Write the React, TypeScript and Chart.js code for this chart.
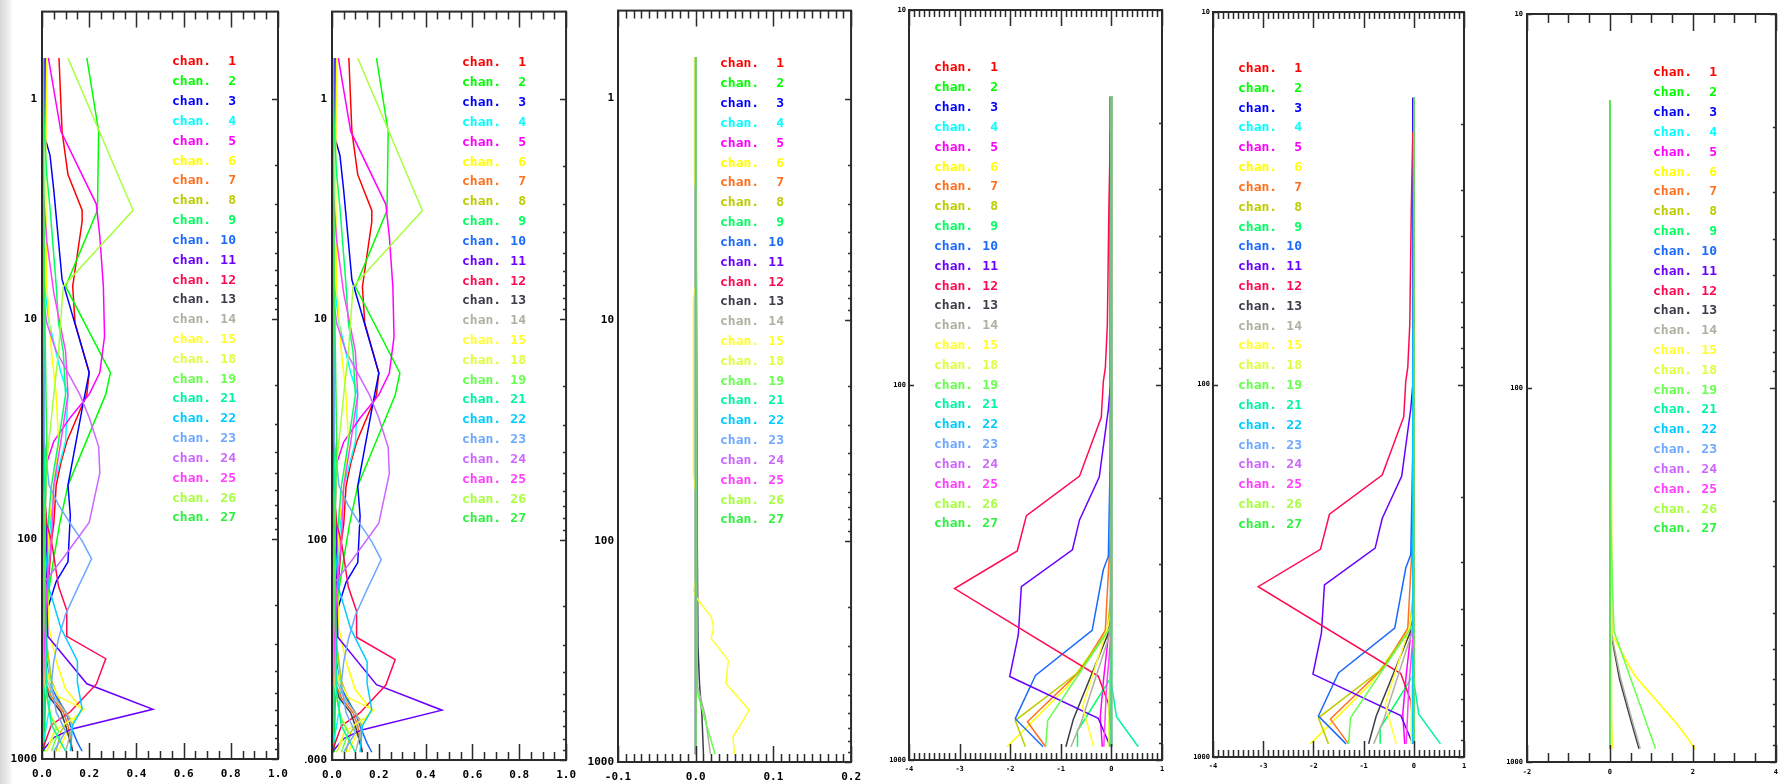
import React, { useEffect, useRef } from "react";
import { Chart, registerables } from "chart.js";
Chart.register(...registerables);

// ---------- channels & colours ----------
const CHANNELS = [1, 2, 3, 4, 5, 6, 7, 8, 9, 10, 11, 12, 13, 14, 15, 18, 19, 21, 22, 23, 24, 25, 26, 27];
const CHANNEL_COLORS = [
  "#ff0000", "#00ff00", "#0000ff", "#00ffff", "#ff00ff", "#ffff00", "#ff6f1f", "#bccc00",
  "#00ff60", "#1a6aff", "#6a00ff", "#ff0a50", "#3c3c4a", "#b0b0a0", "#ffff30", "#dcff40",
  "#66ff4c", "#00f5a0", "#00ccff", "#6fa8ff", "#cc66ff", "#ff40ff", "#a8ff40", "#30f040",
];

// ---------- tick labels ----------
const P_TICKS_FULL = [1, 10, 100, 1000];
const P_TICKS_LOW = [10, 100, 1000];
const X_TICKS_A = [0, 0.2, 0.4, 0.6, 0.8, 1.0];
const X_TICKS_C = [-0.1, 0, 0.1, 0.2];
const X_TICKS_D = [-4, -3, -2, -1, 0, 1];
const X_TICKS_F = [-2, 0, 2, 4];

// ---------- profiles: [pressure hPa, value] ----------
const PROFILE_A: Record<number, number[][]> = {
  1: [[0.65, 0.072], [1.4, 0.085], [2.2, 0.11], [3.2, 0.17], [3.6, 0.17], [7.1, 0.13], [10.4, 0.14], [17.5, 0.2], [22, 0.19], [36, 0.105], [45, 0.08], [57, 0.06], [85, 0.05], [102, 0.04], [144, 0.03], [223, 0.02], [397, 0.01], [922, 0]],
  2: [[0.65, 0.19], [1.4, 0.24], [3.2, 0.235], [7.1, 0.1], [17.5, 0.29], [22, 0.27], [57, 0.11], [85, 0.075], [122, 0.05], [168, 0.03], [254, 0.02], [922, 0.01]],
  3: [[0.65, 0.013], [1.5, 0.013], [1.8, 0.034], [2.6, 0.05], [6.6, 0.085], [17.5, 0.2], [24, 0.175], [57, 0.11], [78, 0.12], [127, 0.11], [156, 0.06], [213, 0.02], [290, 0.01], [922, 0.005]],
  4: [[0.65, 0], [1.4, 0], [3.2, 0.005], [7, 0.01], [10.4, 0.03], [17.5, 0.08], [22, 0.11], [36, 0.1], [57, 0.05], [102, 0.03], [168, 0.02], [300, 0.02], [450, 0.04], [600, 0.03], [922, 0]],
  5: [[0.65, 0.027], [1.4, 0.08], [3.0, 0.23], [4.2, 0.245], [7.1, 0.26], [12, 0.265], [17.5, 0.245], [22, 0.2], [28, 0.12], [36, 0.05], [45, 0.02], [102, 0.01], [922, 0]],
  6: [[0.65, 0.02], [2.2, 0.015], [7, 0.02], [14, 0.04], [22, 0.06], [36, 0.07], [57, 0.05], [85, 0.03], [144, 0.02], [254, 0.03], [358, 0.06], [480, 0.1], [594, 0.17], [700, 0.12], [922, 0.07]],
  7: [[0.65, 0], [7, 0.005], [45, 0.01], [144, 0.02], [254, 0.01], [437, 0.01], [521, 0.04], [611, 0.09], [703, 0.11], [922, 0.13]],
  8: [[0.65, 0], [14, 0], [57, 0.01], [144, 0.01], [300, 0.02], [437, 0.04], [566, 0.08], [656, 0.12], [749, 0.08], [922, 0.06]],
  9: [[0.65, 0], [1.4, 0.01], [2.2, 0.02], [3.2, 0.035], [4.4, 0.045], [7, 0.06], [10.4, 0.07], [14, 0.09], [22, 0.1], [36, 0.07], [57, 0.04], [102, 0.02], [922, 0.005]],
  10: [[0.65, 0], [57, 0], [168, 0.01], [358, 0.02], [437, 0.03], [521, 0.06], [611, 0.1], [703, 0.12], [840, 0.15], [922, 0.17]],
  11: [[0.65, 0], [22, 0.005], [57, 0.01], [102, 0.02], [194, 0.02], [277, 0.025], [455, 0.19], [594, 0.47], [730, 0.127], [800, 0.05], [922, 0]],
  12: [[0.65, 0], [45, 0], [85, 0.02], [102, 0.04], [164, 0.07], [211, 0.105], [277, 0.105], [350, 0.27], [457, 0.23], [610, 0.12], [700, 0.04], [800, 0.02], [922, 0]],
  13: [[0.65, 0], [254, 0], [437, 0.01], [521, 0.03], [611, 0.08], [703, 0.1], [922, 0.13]],
  14: [[0.65, 0], [300, 0], [437, 0.02], [521, 0.05], [611, 0.1], [703, 0.13], [922, 0.1]],
  15: [[0.65, 0], [300, 0], [437, 0.03], [521, 0.07], [594, 0.18], [656, 0.13], [750, 0.05], [922, 0.02]],
  18: [[0.65, 0], [200, 0], [437, 0.01], [611, 0.03], [703, 0.06], [840, 0.04], [922, 0.02]],
  19: [[0.65, 0], [100, 0], [254, 0.01], [521, 0.02], [656, 0.04], [749, 0.07], [922, 0.04]],
  21: [[0.65, 0], [10, 0.01], [100, 0.01], [500, 0.02], [700, 0.04], [922, 0.1]],
  22: [[0.65, 0], [45, 0], [102, 0.01], [168, 0.03], [254, 0.08], [358, 0.15], [450, 0.15], [590, 0.17], [700, 0.13], [922, 0.12]],
  23: [[0.65, 0], [36, 0.01], [57, 0.03], [70, 0.07], [85, 0.12], [102, 0.17], [123, 0.21], [144, 0.18], [168, 0.15], [220, 0.1], [283, 0.07], [358, 0.05], [450, 0.04], [611, 0.06], [750, 0.1], [922, 0.05]],
  24: [[0.65, 0], [7, 0], [10.4, 0.02], [14, 0.06], [22, 0.16], [28, 0.2], [38, 0.24], [50, 0.245], [84, 0.2], [122, 0.09], [162, 0], [922, 0]],
  25: [[0.65, 0], [2.2, 0], [4.4, 0.02], [7.6, 0.05], [14, 0.1], [22, 0.11], [36, 0.08], [57, 0.05], [102, 0.04], [168, 0.02], [300, 0.01], [922, 0]],
  26: [[0.65, 0.11], [3.2, 0.386], [7.1, 0.09], [14, 0.07], [22, 0.05], [45, 0.02], [102, 0.01], [922, 0]],
  27: [[0.65, 0.005], [7, 0.01], [36, 0.02], [102, 0.01], [922, 0]],
};

const PROFILE_C: Record<number, number[][]> = {
  1: [[0.65, 0], [922, 0]], 2: [[0.65, 0], [922, 0]], 3: [[0.65, 0], [922, 0]], 4: [[0.65, 0], [922, 0]],
  5: [[0.65, 0], [922, 0]], 6: [[0.65, 0], [922, 0]], 7: [[0.65, 0], [922, 0]], 8: [[0.65, 0], [922, 0]],
  9: [[0.65, 0], [922, 0]], 10: [[0.65, 0], [922, 0]], 11: [[0.65, 0], [922, 0]], 12: [[0.65, 0], [922, 0]],
  13: [[0.65, 0], [100, 0.002], [300, 0.003], [450, 0.005], [610, 0.008], [922, 0.01]],
  14: [[0.65, 0], [450, 0.002], [610, 0.012], [922, 0.019]],
  15: [[0.65, -0.002], [2.2, -0.002], [2.6, 0], [7, 0], [8, -0.003], [50, -0.003], [60, 0], [150, 0], [167, -0.003], [179, 0], [221, 0.02], [245, 0.023], [276, 0.02], [347, 0.042], [442, 0.039], [583, 0.069], [769, 0.048], [922, 0.05]],
  18: [[0.65, 0], [922, 0]],
  19: [[0.65, 0], [450, 0], [610, 0.01], [922, 0.025]],
  21: [[0.65, 0], [922, 0]], 22: [[0.65, 0], [922, 0]], 23: [[0.65, 0], [922, 0]], 24: [[0.65, 0], [922, 0]],
  25: [[0.65, 0], [922, 0]], 26: [[0.65, 0], [922, 0]], 27: [[0.65, 0], [922, 0]],
};

const PROFILE_D: Record<number, number[][]> = {
  1: [[17, 0], [922, 0]],
  2: [[17, 0], [922, 0]],
  3: [[17, -0.02], [100, -0.02], [200, -0.01], [922, 0]],
  4: [[17, 0], [922, 0]],
  5: [[17, 0], [400, 0], [455, -0.05], [600, -0.15], [767, -0.22], [922, -0.18]],
  6: [[17, 0], [380, 0], [455, -0.1], [637, -0.87], [922, -2.06]],
  7: [[17, 0], [250, -0.02], [451, -0.12], [577, -0.61], [791, -1.66], [922, -1.3]],
  8: [[17, 0], [350, 0], [455, -0.08], [587, -0.68], [785, -1.9], [922, -1.7]],
  9: [[17, 0], [600, 0], [836, -0.67], [922, -0.67]],
  10: [[17, 0], [150, -0.02], [286, -0.06], [311, -0.16], [451, -0.38], [595, -1.5], [776, -1.9], [922, -1.35]],
  11: [[17, -0.01], [100, -0.02], [116, -0.06], [176, -0.24], [229, -0.63], [275, -0.77], [345, -1.78], [464, -1.84], [599, -2.01], [774, -0.26], [922, -0.02]],
  12: [[21, -0.02], [34, -0.05], [69, -0.08], [90, -0.12], [98, -0.16], [122, -0.2], [175, -0.63], [223, -1.68], [277, -1.86], [349, -3.1], [597, -0.26], [707, -0.06], [800, -0.02], [922, 0]],
  13: [[17, 0], [400, 0], [455, -0.05], [777, -0.75], [922, -0.9]],
  14: [[17, 0], [400, 0], [470, -0.05], [795, -0.6], [922, -0.8]],
  15: [[17, 0], [400, 0], [455, -0.1], [721, -0.57], [922, -0.35]],
  18: [[17, 0], [500, 0], [700, -0.05], [922, -0.05]],
  19: [[17, 0], [440, 0], [455, -0.08], [785, -1.26], [922, -1.3]],
  21: [[17, 0], [625, 0], [767, 0.1], [922, 0.53]],
  22: [[17, 0], [100, -0.02], [922, -0.02]],
  23: [[17, 0], [922, 0]],
  24: [[17, 0], [922, 0]],
  25: [[17, 0], [450, 0], [650, -0.1], [922, -0.15]],
  26: [[17, 0], [922, 0]],
  27: [[17, 0], [922, 0]],
};

const PROFILE_F: Record<number, number[][]> = {
  1: [[17, 0], [922, 0]], 2: [[17, 0], [922, 0]], 3: [[17, 0], [922, 0]], 4: [[17, 0], [922, 0]],
  5: [[17, 0], [922, 0]],
  6: [[17, 0], [456, 0.05], [586, 0.59], [785, 1.59], [851, 1.83], [922, 2.05]],
  7: [[17, 0], [922, 0]], 8: [[17, 0], [922, 0]], 9: [[17, 0], [922, 0]], 10: [[17, 0], [922, 0]],
  11: [[17, 0], [922, 0]], 12: [[17, 0], [922, 0]],
  13: [[17, 0], [456, 0.03], [600, 0.23], [750, 0.47], [922, 0.7]],
  14: [[17, 0], [456, 0.04], [600, 0.26], [750, 0.5], [922, 0.73]],
  15: [[17, 0], [760, 0.04], [922, 0.06]],
  18: [[17, 0], [922, 0]],
  19: [[17, 0], [219, 0.02], [343, 0.06], [448, 0.1], [612, 0.53], [922, 1.1]],
  21: [[17, 0], [922, 0]], 22: [[17, 0], [922, 0]], 23: [[17, 0], [922, 0]], 24: [[17, 0], [922, 0]],
  25: [[17, 0], [922, 0]], 26: [[17, 0], [922, 0]], 27: [[17, 0], [922, 0]],
};

// ---------- panel layout (page pixels) ----------
type PanelCfg = {
  left: number; width: number; plot: number[];
  xMin: number; xMax: number; yMin: number; yMax: number;
  xTicks: number[]; yTicks: number[]; profiles: Record<number, number[][]>;
  xMinor: number; xMajor: number; xMajLen: number; xMinLen: number;
  decStart: number; decEnd: number; leftTicks: boolean;
  font: number; xPad: number; yPad: number; digits: number; legend: number[];
};

const PANELS: PanelCfg[] = [
  { left: 0, width: 300, plot: [42, 6, 278, 759], xMin: 0, xMax: 1, yMin: 0.4, yMax: 1000, xTicks: X_TICKS_A, yTicks: P_TICKS_FULL, profiles: PROFILE_A, xMinor: 0.05, xMajor: 0.2, xMajLen: 16, xMinLen: 8, decStart: 0, decEnd: 3, leftTicks: false, font: 11, xPad: 9, yPad: 5, digits: 1, legend: [172, 62] },
  { left: 305, width: 280, plot: [332, 8, 568, 760], xMin: 0, xMax: 1, yMin: 0.4, yMax: 1000, xTicks: X_TICKS_A, yTicks: P_TICKS_FULL, profiles: PROFILE_A, xMinor: 0.05, xMajor: 0.2, xMajLen: 16, xMinLen: 8, decStart: 0, decEnd: 3, leftTicks: false, font: 11, xPad: 9, yPad: 5, digits: 1, legend: [462, 63] },
  { left: 585, width: 285, plot: [618, 10, 855, 762], xMin: -0.1, xMax: 0.2, yMin: 0.4, yMax: 1000, xTicks: X_TICKS_C, yTicks: P_TICKS_FULL, profiles: PROFILE_C, xMinor: 0.01, xMajor: 0.1, xMajLen: 16, xMinLen: 8, decStart: 0, decEnd: 3, leftTicks: false, font: 11, xPad: 9, yPad: 4, digits: 1, legend: [720, 64] },
  { left: 870, width: 320, plot: [909, 10, 1162, 760], xMin: -4, xMax: 1, yMin: 10, yMax: 1000, xTicks: X_TICKS_D, yTicks: P_TICKS_LOW, profiles: PROFILE_D, xMinor: 0.1, xMajor: 1, xMajLen: 16, xMinLen: 7, decStart: 1, decEnd: 3, leftTicks: true, font: 7, xPad: 5, yPad: 3, digits: 0, legend: [934, 68] },
  { left: 1190, width: 300, plot: [1213, 12, 1464, 757], xMin: -4, xMax: 1, yMin: 10, yMax: 1000, xTicks: X_TICKS_D, yTicks: P_TICKS_LOW, profiles: PROFILE_D, xMinor: 0.1, xMajor: 1, xMajLen: 16, xMinLen: 7, decStart: 1, decEnd: 3, leftTicks: true, font: 7, xPad: 5, yPad: 3, digits: 0, legend: [1238, 68.5] },
  { left: 1490, width: 294, plot: [1527, 14, 1778, 762], xMin: -2, xMax: 4, yMin: 10, yMax: 1000, xTicks: X_TICKS_F, yTicks: P_TICKS_LOW, profiles: PROFILE_F, xMinor: 0.5, xMajor: 2, xMajLen: 17, xMinLen: 9, decStart: 1, decEnd: 3, leftTicks: true, font: 7, xPad: 6, yPad: 4, digits: 0, legend: [1653, 73] },
];

const PAGE_H = 784;
const LEGEND_STEP = 19.83;
const MONO = '"DejaVu Sans Mono", monospace';

const decorPlugin = {
  id: "profileDecor",
  afterDraw(chart: any, _args: any, o: any) {
    const { ctx, chartArea: a } = chart;
    const xs = chart.scales.x;
    const ys = chart.scales.y;
    ctx.save();
    ctx.strokeStyle = "#2b2b2b";
    ctx.lineWidth = 1.5;
    // x ticks (inward, top & bottom)
    const n = Math.round((o.xMax - o.xMin) / o.xMinor);
    ctx.beginPath();
    for (let i = 0; i <= n; i++) {
      const v = o.xMin + i * o.xMinor;
      const r = v / o.xMajor;
      const major = Math.abs(r - Math.round(r)) < 1e-6;
      const len = major ? o.xMajLen : o.xMinLen;
      const px = Math.round(xs.getPixelForValue(v)) + 0.5;
      ctx.moveTo(px, a.bottom);
      ctx.lineTo(px, a.bottom - len);
      ctx.moveTo(px, a.top);
      ctx.lineTo(px, a.top + len);
    }
    ctx.stroke();
    // y ticks (right axis, inward)
    ctx.beginPath();
    for (let d = o.decStart; d <= o.decEnd; d++) {
      for (let k = 1; k <= 9; k++) {
        if (d === o.decEnd && k > 1) break;
        const v = k * Math.pow(10, d);
        const py = Math.round(ys.getPixelForValue(v)) + 0.5;
        const len = k === 1 ? 6 : 3;
        ctx.moveTo(a.right, py);
        ctx.lineTo(a.right - len, py);
        if (o.leftTicks && k === 1) {
          ctx.moveTo(a.left, py);
          ctx.lineTo(a.left + 5, py);
        }
      }
    }
    ctx.stroke();
    // frame
    ctx.lineWidth = 2;
    ctx.strokeRect(a.left, a.top, a.right - a.left, a.bottom - a.top);
    // channel legend
    ctx.font = `bold 13px ${MONO}`;
    ctx.textBaseline = "middle";
    CHANNELS.forEach((ch, i) => {
      const y = o.legendY + i * LEGEND_STEP;
      ctx.fillStyle = CHANNEL_COLORS[i];
      ctx.textAlign = "left";
      ctx.fillText("chan.", o.legendX, y);
      ctx.textAlign = "right";
      ctx.fillText(String(ch), o.legendX + 64, y);
    });
    ctx.restore();
  },
};

function Panel({ cfg }: { cfg: PanelCfg }) {
  const ref = useRef<HTMLCanvasElement>(null);
  useEffect(() => {
    const [L, T, R, B] = cfg.plot;
    const yAxisW = L - cfg.left;
    const xAxisH = PAGE_H - B;
    const padding = { left: 0, top: T, right: cfg.left + cfg.width - R, bottom: 0 };
    const datasets = CHANNELS.map((ch, i) => ({
      label: `chan. ${ch}`,
      data: cfg.profiles[ch].map(([p, v]) => ({ x: v, y: p })),
      borderColor: CHANNEL_COLORS[i],
      backgroundColor: CHANNEL_COLORS[i],
      borderWidth: 1.5,
      pointRadius: 0,
      showLine: true,
      fill: false,
      tension: 0,
      order: 100 - i,
    }));
    const tickFont = { family: MONO, size: cfg.font, weight: "bold" as const };
    const chart = new Chart(ref.current!, {
      type: "scatter",
      data: { datasets },
      plugins: [decorPlugin],
      options: {
        animation: false,
        responsive: false,
        devicePixelRatio: 1,
        events: [],
        layout: { padding },
        plugins: {
          legend: { display: false },
          tooltip: { enabled: false },
          profileDecor: {
            xMin: cfg.xMin, xMax: cfg.xMax, xMinor: cfg.xMinor, xMajor: cfg.xMajor,
            xMajLen: cfg.xMajLen, xMinLen: cfg.xMinLen, decStart: cfg.decStart, decEnd: cfg.decEnd,
            leftTicks: cfg.leftTicks, legendX: cfg.legend[0] - cfg.left, legendY: cfg.legend[1],
          },
        } as any,
        scales: {
          x: {
            type: "linear",
            position: "bottom",
            min: cfg.xMin,
            max: cfg.xMax,
            grid: { display: false, drawTicks: false },
            border: { display: false },
            afterFit: (s: any) => { s.height = xAxisH; },
            afterBuildTicks: (s: any) => { s.ticks = cfg.xTicks.map((v) => ({ value: v })); },
            ticks: {
              autoSkip: false, maxRotation: 0, minRotation: 0, padding: cfg.xPad,
              color: "#000", font: tickFont,
              callback: (v: any) => Number(v).toFixed(cfg.digits),
            },
          },
          y: {
            type: "logarithmic",
            position: "left",
            reverse: true,
            min: cfg.yMin,
            max: cfg.yMax,
            grid: { display: false, drawTicks: false },
            border: { display: false },
            afterFit: (s: any) => { s.width = yAxisW; },
            afterBuildTicks: (s: any) => { s.ticks = cfg.yTicks.map((v) => ({ value: v })); },
            ticks: {
              autoSkip: false, padding: cfg.yPad, color: "#000", font: tickFont,
              callback: (v: any) => String(v),
            },
          },
        },
      } as any,
    });
    return () => chart.destroy();
  }, [cfg]);
  return (
    <canvas
      ref={ref}
      width={cfg.width}
      height={PAGE_H}
      style={{ position: "absolute", left: cfg.left, top: 0, width: cfg.width, height: PAGE_H }}
    />
  );
}

export default function App() {
  return (
    <div style={{ position: "fixed", left: 0, top: 0, width: 1784, height: 784, background: "#fff", overflow: "hidden" }}>
      <div style={{ position: "absolute", left: 0, top: 0, width: 13, height: 784, background: "linear-gradient(to right, #d6d6d6, #ececec 60%, #ffffff)" }} />
      {PANELS.map((p, i) => (
        <Panel key={i} cfg={p} />
      ))}
    </div>
  );
}
